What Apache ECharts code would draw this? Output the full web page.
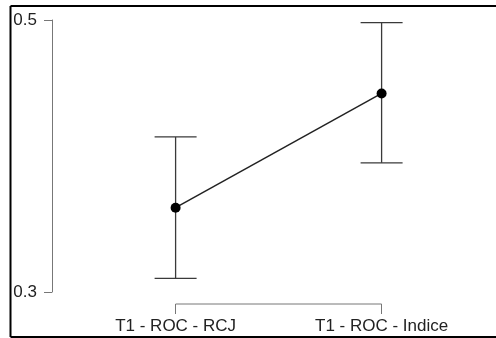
<!DOCTYPE html>
<html>
<head>
<meta charset="utf-8">
<script src="https://cdn.jsdelivr.net/npm/echarts@6/dist/echarts.min.js"></script>
<style>
  html, body { margin: 0; padding: 0; background: #fff; }
  #chart { width: 496px; height: 338px; }
</style>
</head>
<body>
<div id="chart"></div>
<script>
// Group labels and estimates with their interval bounds
const categories = ['T1 - ROC - RCJ', 'T1 - ROC - Indice'];
const positions = [1, 2];
const means = [0.362, 0.446];
const lower = [0.310, 0.395];
const upper = [0.414, 0.498];
const yTicks = [0.3, 0.5];

const FONT = '"Liberation Sans", Arial, sans-serif';
const chart = echarts.init(document.getElementById('chart'), null, { renderer: 'canvas' });

const lineData = positions.map((p, i) => [p, means[i]]);
const barData = positions.map((p, i) => [p, lower[i], upper[i]]);

function renderErrorBar(params, api) {
  const x = api.value(0);
  const lo = api.coord([x, api.value(1)]);
  const hi = api.coord([x, api.value(2)]);
  const half = 21;
  const style = { stroke: '#3a3a3a', lineWidth: 1.3, fill: null };
  return {
    type: 'group',
    children: [
      { type: 'line', shape: { x1: lo[0], y1: lo[1], x2: hi[0], y2: hi[1] }, style },
      { type: 'line', shape: { x1: hi[0] - half, y1: hi[1], x2: hi[0] + half, y2: hi[1] }, style },
      { type: 'line', shape: { x1: lo[0] - half, y1: lo[1], x2: lo[0] + half, y2: lo[1] }, style }
    ]
  };
}

// Bracket-style x axis line spanning only the first to last group
function renderAxisBracket(params, api) {
  if (params.dataIndex !== 0) return null;
  const a = api.coord([positions[0], yTicks[0]]);
  const b = api.coord([positions[positions.length - 1], yTicks[0]]);
  const y = a[1] + 12;
  return {
    type: 'line',
    shape: { x1: a[0], y1: y, x2: b[0], y2: y },
    style: { stroke: '#777', lineWidth: 1 }
  };
}

chart.setOption({
  animation: false,
  backgroundColor: '#fff',
  grid: { left: 52, right: 32, top: 20, bottom: 46 },
  xAxis: {
    type: 'value',
    min: 0.4,
    max: 2.4,
    offset: 12,
    splitLine: { show: false },
    axisLine: { show: false },
    axisTick: {
      show: true,
      customValues: positions,
      length: 10,
      lineStyle: { color: '#777', width: 1 }
    },
    axisLabel: {
      customValues: positions,
      margin: 14,
      fontFamily: FONT,
      fontSize: 17,
      color: '#222',
      formatter: v => categories[positions.indexOf(v)] || ''
    }
  },
  yAxis: {
    type: 'value',
    min: 0.3,
    max: 0.5,
    splitLine: { show: false },
    axisLine: { show: true, lineStyle: { color: '#777', width: 1 } },
    axisTick: {
      show: true,
      customValues: yTicks,
      length: 8,
      lineStyle: { color: '#777', width: 1 }
    },
    axisLabel: {
      customValues: yTicks,
      margin: 15,
      fontFamily: FONT,
      fontSize: 17,
      color: '#222',
      formatter: v => v.toFixed(1)
    }
  },
  graphic: [
    { type: 'line', shape: { x1: 10.5, y1: 6, x2: 496, y2: 6 }, style: { stroke: '#000', lineWidth: 2 } },
    { type: 'line', shape: { x1: 10.5, y1: 6, x2: 10.5, y2: 337 }, style: { stroke: '#000', lineWidth: 2 } },
    { type: 'line', shape: { x1: 10.5, y1: 337, x2: 496, y2: 337 }, style: { stroke: '#000', lineWidth: 2 } }
  ],
  series: [
    {
      type: 'custom',
      renderItem: renderAxisBracket,
      data: barData,
      clip: false,
      silent: true,
      z: 1
    },
    {
      type: 'custom',
      renderItem: renderErrorBar,
      data: barData,
      clip: false,
      silent: true,
      z: 2
    },
    {
      type: 'line',
      data: lineData,
      symbol: 'circle',
      symbolSize: 10,
      lineStyle: { color: '#222', width: 1.5 },
      itemStyle: { color: '#000' },
      z: 3
    }
  ]
});
</script>
</body>
</html>
